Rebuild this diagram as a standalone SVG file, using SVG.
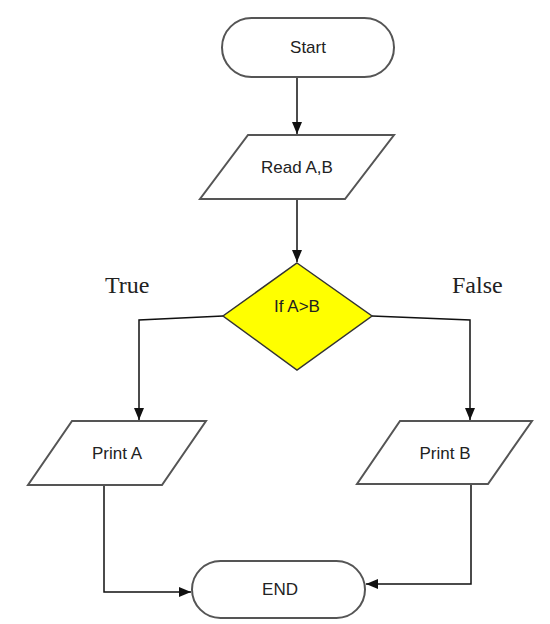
<svg xmlns="http://www.w3.org/2000/svg" width="550" height="624" viewBox="0 0 550 624">
<style>
.shape{fill:#fff;stroke:#555;stroke-width:2}
.dec{fill:#ffff00;stroke:#333;stroke-width:1.5}
.lbl{font-family:"Liberation Sans",Arial,sans-serif;font-size:17px;fill:#222;text-anchor:middle;dominant-baseline:central}
.br{font-family:"Liberation Serif","Times New Roman",serif;font-size:24px;fill:#222}
.conn{fill:none;stroke:#111;stroke-width:1.5}
</style>
<defs>
<marker id="ah" viewBox="0 0 12 10" refX="12" refY="5" markerWidth="12" markerHeight="10" markerUnits="userSpaceOnUse" orient="auto">
<path d="M0,0 L12,5 L0,10 Z" fill="#111"/>
</marker>
</defs>
<rect width="550" height="624" fill="#fff"/>
<g id="connectors">
<path class="conn" d="M297,77 V134" marker-end="url(#ah)"/>
<path class="conn" d="M297,199 V262" marker-end="url(#ah)"/>
<path class="conn" d="M223,316 L139,320 V420" marker-end="url(#ah)"/>
<path class="conn" d="M372,316 L470,320 V420" marker-end="url(#ah)"/>
<path class="conn" d="M104,485 V592 H191" marker-end="url(#ah)"/>
<path class="conn" d="M471,484 V584 H366" marker-end="url(#ah)"/>
</g>
<g id="start">
<rect class="shape" x="222" y="18" width="172" height="59" rx="29.5"/>
<text class="lbl" x="308" y="47">Start</text>
</g>
<g id="read">
<polygon class="shape" points="248,135 394,135 345,199 200,199"/>
<text class="lbl" x="297" y="167">Read A,B</text>
</g>
<g id="decision">
<polygon class="dec" points="297,263 372,316 297,370 223,316"/>
<text class="lbl" x="297" y="306">If A&gt;B</text>
</g>
<g id="printA">
<polygon class="shape" points="72,421 206,421 162,485 28,485"/>
<text class="lbl" x="117" y="453">Print A</text>
</g>
<g id="printB">
<polygon class="shape" points="400,421 532,421 488,484 357,484"/>
<text class="lbl" x="445" y="453">Print B</text>
</g>
<g id="end">
<rect class="shape" x="192" y="561" width="173" height="57" rx="28.5"/>
<text class="lbl" x="280" y="589">END</text>
</g>
<text class="br" x="105" y="293">True</text>
<text class="br" x="452" y="293">False</text>
</svg>
